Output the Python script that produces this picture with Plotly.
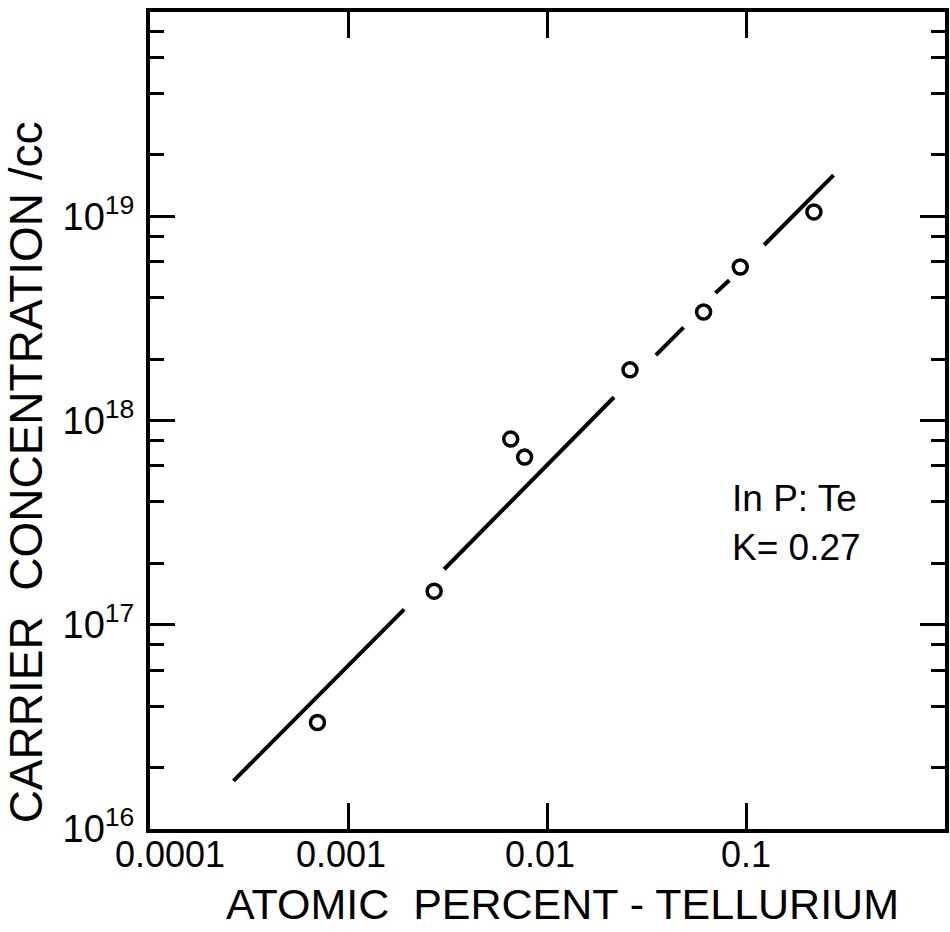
import math
import plotly.graph_objects as go

# Measured carrier concentration vs. tellurium content (InP:Te)
te_percent = [6.96e-4, 2.69e-3, 6.53e-3, 7.67e-3, 0.0260, 0.0610, 0.0933, 0.219]
carrier_cc = [3.32e16, 1.46e17, 8.11e17, 6.62e17, 1.77e18, 3.40e18, 5.64e18, 1.05e19]

# Fitted line (K = 0.27), drawn in pieces with breaks near the data points
fit_seg_x = [[2.63e-4, 1.90e-3], [3.02e-3, 0.0216], [0.0351, 0.0484], [0.0700, 0.0822], [0.123, 0.275]]
fit_seg_y = [[1.72e16, 1.19e17], [1.87e17, 1.30e18], [2.09e18, 2.86e18], [4.21e18, 4.86e18], [7.23e18, 1.59e19]]

x_tick_vals = [1e-4, 1e-3, 1e-2, 1e-1, 1.0]
x_tick_text = ["0.0001", "0.001", "0.01", "0.1"]
x_label_shift = [20, -8, -8, 0]

y_tick_vals = [1e16, 1e17, 1e18, 1e19, 1e20]
y_tick_text = ["10<sup>16</sup>", "10<sup>17</sup>", "10<sup>18</sup>", "10<sup>19</sup>", ""]
y_minor_vals = [m * 10.0 ** e for e in range(16, 20) for m in (2, 4, 6, 8)]

FONT = "Liberation Sans, Arial, sans-serif"

fx, fy = [], []
for sx, sy in zip(fit_seg_x, fit_seg_y):
    fx += sx + [None]
    fy += sy + [None]

fig = go.Figure()
fig.add_trace(go.Scatter(x=fx, y=fy, mode="lines",
                         line=dict(color="black", width=4), hoverinfo="skip"))
fig.add_trace(go.Scatter(x=te_percent, y=carrier_cc, mode="markers",
                         marker=dict(symbol="circle-open", size=14, color="black",
                                     line=dict(width=3.5))))

# x tick labels (annotation x on a log axis is given in log10 units)
annotations = []
for v, t, s in zip(x_tick_vals, x_tick_text, x_label_shift):
    annotations.append(dict(x=math.log10(v), y=-0.0312, xref="x", yref="paper", text=t,
                            showarrow=False, xanchor="center", yanchor="middle",
                            xshift=s, font=dict(family=FONT, size=36, color="black")))

annotations += [
    dict(x=0.519, y=-0.0918, xref="paper", yref="paper",
         text="ATOMIC  PERCENT - TELLURIUM", showarrow=False,
         xanchor="center", yanchor="middle",
         font=dict(family=FONT, size=43, color="black")),
    dict(x=-0.1555, y=0.437, xref="paper", yref="paper",
         text="CARRIER  CONCENTRATION /cc", showarrow=False, textangle=-90,
         xanchor="center", yanchor="middle",
         font=dict(family=FONT, size=46, color="black")),
    dict(x=0.7297, y=0.404, xref="paper", yref="paper", text="In P: Te",
         showarrow=False, xanchor="left", yanchor="middle",
         font=dict(family=FONT, size=37, color="black")),
    dict(x=0.7297, y=0.344, xref="paper", yref="paper", text="K= 0.27",
         showarrow=False, xanchor="left", yanchor="middle",
         font=dict(family=FONT, size=37, color="black")),
]

fig.update_layout(
    width=950, height=932,
    margin=dict(l=150, r=1, t=12, b=103),
    paper_bgcolor="white", plot_bgcolor="white",
    showlegend=False,
    annotations=annotations,
    xaxis=dict(type="log", range=[-4, 0], showgrid=False, zeroline=False,
               showline=True, linecolor="black", linewidth=4, mirror="ticks",
               ticks="inside", ticklen=26, tickwidth=3, tickcolor="black",
               tickmode="array", tickvals=x_tick_vals, showticklabels=False),
    yaxis=dict(type="log", range=[16, 20], showgrid=False, zeroline=False,
               showline=True, linecolor="black", linewidth=4, mirror="ticks",
               ticks="inside", ticklen=25, tickwidth=3, tickcolor="black",
               tickmode="array", tickvals=y_tick_vals, ticktext=y_tick_text,
               tickfont=dict(family=FONT, size=38, color="black"),
               ticklabelstandoff=4,
               minor=dict(ticks="inside", ticklen=14, tickwidth=3, tickcolor="black",
                          tickmode="array", tickvals=y_minor_vals)),
)

fig.write_html("out.html")
